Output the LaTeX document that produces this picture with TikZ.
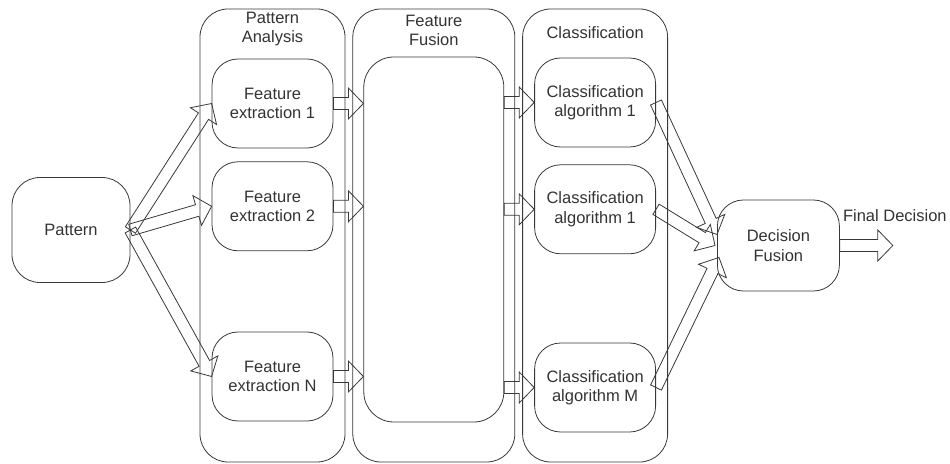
\documentclass[tikz,border=0pt]{standalone}
\usepackage{fontspec}
\setmainfont{Liberation Sans}
\usetikzlibrary{positioning, calc}
\definecolor{linegray}{HTML}{383838}
\definecolor{textgray}{HTML}{333333}

% hollow block arrow from #1 to #2
\newcommand{\blockarrow}[2]{%
  \path ($(#2)!15pt!(#1)$) coordinate (bahead);
  \draw[blockarr] ($(#1)!6pt!90:(#2)$)
    -- ($(bahead)!6pt!-90:(#1)$) -- ($(bahead)!15.5pt!-90:(#1)$)
    -- (#2)
    -- ($(bahead)!15.5pt!90:(#1)$) -- ($(bahead)!6pt!90:(#1)$)
    -- ($(#1)!6pt!-90:(#2)$) -- cycle;
}

\begin{document}
\begin{tikzpicture}[
    x=1pt, y=1pt,
    every node/.style={font=\fontsize{16.5}{19.5}\selectfont, align=center,
                       text=textgray},
    column/.style={rectangle, rounded corners=28pt, draw=linegray,
                   line width=0.8pt, minimum width=145pt, minimum height=453pt},
    block/.style={rectangle, rounded corners=26pt, draw=linegray,
                  line width=0.8pt, minimum width=121pt, minimum height=89pt,
                  inner sep=2pt},
    heading/.style={inner sep=0pt},
    blockarr/.style={draw=linegray, line width=0.8pt, line join=miter}
]
\useasboundingbox (0,0) rectangle (950,463);

% Columns
\node[column] (pacol) at (272.5,227.5) {};
\node[column, minimum width=162pt, right=7pt of pacol] (fucol) {};
\node[column, right=7pt of fucol] (clcol) {};

\node[heading, below=3pt of pacol.north] (pahead) {Pattern\\Analysis};
\node[heading, below=6pt of fucol.north] (fuhead) {Feature\\Fusion};
\node[heading, below=18pt of clcol.north] (clhead) {Classification};

% Nodes
\node[block, minimum width=118pt, minimum height=105pt, rounded corners=28pt]
    (pat) at (71,233) {Pattern};

\node[block, below=50pt of pacol.north] (fe1) {Feature\\extraction 1};
\node[block, below=13pt of fe1] (fe2) {Feature\\extraction 2};
\node[block, above=41pt of pacol.south] (feN) {Feature\\extraction N};

\node[block, minimum width=140pt, minimum height=365pt, rounded corners=30pt,
      below=48pt of fucol.north] (fus) {};

\node[block, below=49pt of clcol.north] (ca1) {Classification\\algorithm 1};
\node[block, below=17pt of ca1] (ca2) {Classification\\algorithm 1};
\node[block, above=30pt of clcol.south] (caM) {Classification\\algorithm M};

\node[block, minimum width=122pt, minimum height=91pt,
      right=49pt of clcol, yshift=-10pt] (df) {Decision\\Fusion};

\node[anchor=west, inner sep=0pt] (fdlab) at ([xshift=3pt,yshift=30pt]df.east)
    {Final Decision};
\coordinate (fdend) at ([xshift=53pt]df.east);

% Arrows
\foreach \fe in {fe1,fe2,feN} {
  \blockarrow{pat.east}{\fe.west}
  \coordinate (\fe to) at (fus.west |- \fe.east);
  \blockarrow{\fe.east}{\fe to}
}
\foreach \ca in {ca1,ca2,caM} {
  \coordinate (\ca from) at (fus.east |- \ca.west);
  \blockarrow{\ca from}{\ca.west}
}

\coordinate (dt1) at ([yshift=11pt]df.west);
\coordinate (dt2) at ([xshift=-2pt]df.west);
\coordinate (dt3) at ([xshift=2pt,yshift=-12pt]df.west);
\blockarrow{ca1.east}{dt1}
\blockarrow{ca2.east}{dt2}
\blockarrow{caM.east}{dt3}
\blockarrow{df.east}{fdend}

\end{tikzpicture}
\end{document}
